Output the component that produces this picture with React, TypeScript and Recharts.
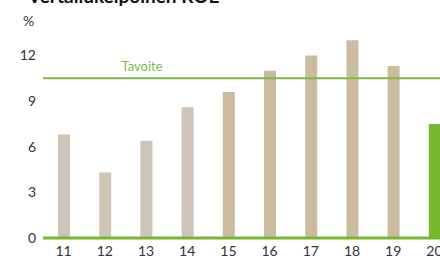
import { Bar, BarChart, Cell, ReferenceLine, XAxis, YAxis } from "recharts";

const years = ["11", "12", "13", "14", "15", "16", "17", "18", "19", "20"];
const roe = [6.8, 4.3, 6.4, 8.6, 9.6, 11.0, 12.0, 13.0, 11.3, 7.5];
const yTicks = [0, 3, 6, 9, 12];
const target = 10.5;

const data = years.map((year, i) => ({ year, roe: roe[i] }));

const GREEN = "#77b82f";
const font = "Lato, 'Noto Sans', sans-serif";

function barColor(i: number) {
  if (i === years.length - 1) return GREEN;
  return i < 4 ? "#cfc4b8" : "#cbbb9f";
}

function TargetLabel(props: any) {
  const vb = props.viewBox || {};
  return (
    <text x={vb.x + 99} y={vb.y - 7} textAnchor="middle" fill="#7dbb45" fontSize={13} fontFamily={font}>
      Tavoite
    </text>
  );
}

export default function App() {
  return (
    <div style={{ position: "absolute", left: 0, top: 0, width: 440, height: 258, overflow: "hidden", background: "#fff" }}>
      <BarChart width={470} height={258} data={data} margin={{ top: 25, right: 15, bottom: 0, left: 0 }}>
        <XAxis
          dataKey="year"
          height={20}
          tickLine={false}
          axisLine={{ stroke: GREEN, strokeWidth: 3 }}
          tick={{ fill: "#333", fontSize: 14, fontFamily: font }}
          interval={0}
        />
        <YAxis
          domain={[0, 14]}
          ticks={yTicks}
          width={43}
          tickLine={false}
          axisLine={false}
          tickSize={0}
          tickMargin={7}
          tick={{ fill: "#333", fontSize: 14, fontFamily: font }}
        />
        <ReferenceLine y={target} stroke="#7dbb45" strokeWidth={2} label={<TargetLabel />} />
        <Bar dataKey="roe" barSize={12} isAnimationActive={false}>
          {data.map((d, i) => (
            <Cell key={d.year} fill={barColor(i)} />
          ))}
        </Bar>
      </BarChart>
      <svg width={440} height={40} style={{ position: "absolute", left: 0, top: 0 }}>
        <text x={28} y={3} fontSize={19} fontWeight="bold" fill="#111" fontFamily={font}>
          Vertailukelpoinen ROE
        </text>
        <text x={23} y={26} fontSize={14} fill="#333" fontFamily={font}>
          %
        </text>
      </svg>
    </div>
  );
}
